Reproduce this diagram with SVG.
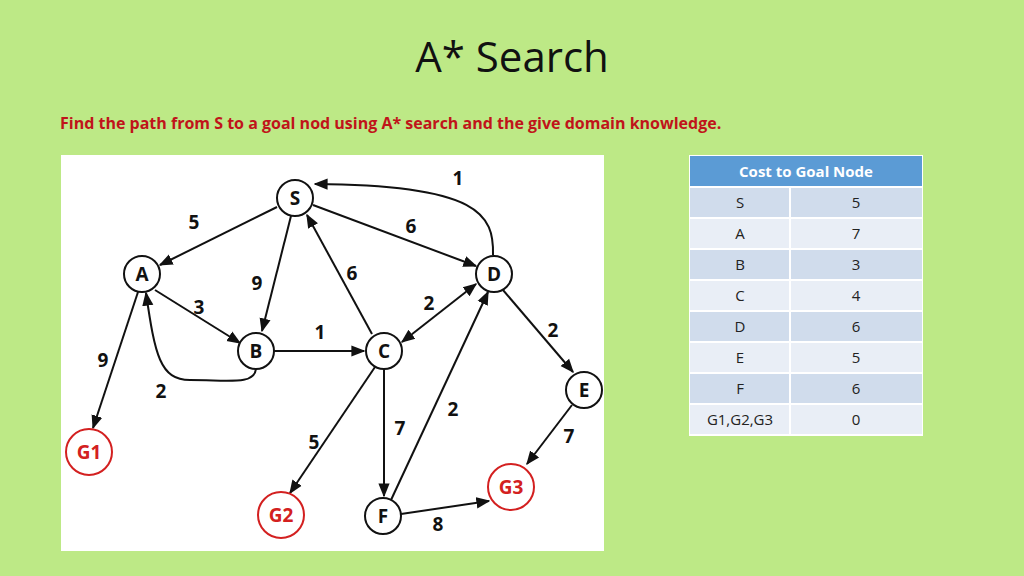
<svg xmlns="http://www.w3.org/2000/svg" width="1024" height="576" viewBox="0 0 1024 576">
<defs>
<marker id="ar" viewBox="0 0 10 10" refX="9" refY="5" markerWidth="7" markerHeight="7" orient="auto-start-reverse"><path d="M0,1 L10,5 L0,9 z" fill="#111"/></marker>
<style>
.n circle{fill:#fff;stroke:#111;stroke-width:2}
.g circle{fill:#fff;stroke:#d32020;stroke-width:2}
.n text{font:bold 19px "Open Sans","Liberation Sans",sans-serif;fill:#111;text-anchor:middle}
.g text{font:bold 19px "Open Sans","Liberation Sans",sans-serif;fill:#d32020;text-anchor:middle}
.e path{fill:none;stroke:#111;stroke-width:2;marker-end:url(#ar)}
.l{font:bold 19px "Open Sans","Liberation Sans",sans-serif;fill:#111;text-anchor:middle}
.t{font:15px "Open Sans","Liberation Sans",sans-serif;fill:#222;text-anchor:middle}
</style>
</defs>
<rect width="1024" height="576" fill="#bde986"/>
<text x="512" y="72" font-family="Open Sans,Liberation Sans,sans-serif" font-size="42" text-anchor="middle" fill="#111">A* Search</text>
<text x="60" y="129" font-family="Open Sans,Liberation Sans,sans-serif" font-size="16" font-weight="bold" fill="#c0141a">Find the path from S to a goal nod using A* search and the give domain knowledge.</text>
<rect x="61" y="155" width="543" height="396" fill="#fff"/>
<g class="e" id="connectors">
<path d="M277,207 L160,265"/>
<path d="M291,216 L262,331"/>
<path d="M313,205 L476,266"/>
<path d="M493,255 C494,215 480,185 315,184"/>
<path d="M372,334 L307,215"/>
<path d="M476,284 L402,342" style="marker-start:url(#ar)"/>
<path d="M155,290 L240,343"/>
<path d="M256,369 C254,385 230,380 190,380 C160,380 155,355 146,293"/>
<path d="M274,351 L364,351"/>
<path d="M138,292 L93,428"/>
<path d="M375,367 L290,493"/>
<path d="M384,370 L384,496"/>
<path d="M391,500 L488,292"/>
<path d="M503,290 L573,372"/>
<path d="M572,405 L527,464"/>
<path d="M401,514 L489,501"/>
</g>
<g id="labels">
<text class="l" x="194" y="229">5</text>
<text class="l" x="411" y="233">6</text>
<text class="l" x="458" y="185">1</text>
<text class="l" x="257" y="290">9</text>
<text class="l" x="352" y="280">6</text>
<text class="l" x="199" y="314">3</text>
<text class="l" x="429" y="310">2</text>
<text class="l" x="320" y="339">1</text>
<text class="l" x="553" y="337">2</text>
<text class="l" x="103" y="367">9</text>
<text class="l" x="161" y="398">2</text>
<text class="l" x="453" y="416">2</text>
<text class="l" x="400" y="435">7</text>
<text class="l" x="314" y="449">5</text>
<text class="l" x="569" y="443">7</text>
<text class="l" x="438" y="531">8</text>
</g>
<g id="S" class="n"><circle cx="295" cy="198" r="18"/><text x="295" y="205">S</text></g>
<g id="A" class="n"><circle cx="142" cy="274" r="18"/><text x="142" y="281">A</text></g>
<g id="B" class="n"><circle cx="256" cy="351" r="18"/><text x="256" y="358">B</text></g>
<g id="C" class="n"><circle cx="384" cy="351" r="18"/><text x="384" y="358">C</text></g>
<g id="D" class="n"><circle cx="494" cy="274" r="18"/><text x="494" y="281">D</text></g>
<g id="E" class="n"><circle cx="584" cy="390" r="18"/><text x="584" y="397">E</text></g>
<g id="F" class="n"><circle cx="383" cy="516" r="18"/><text x="383" y="523">F</text></g>
<g id="G1" class="g"><circle cx="89" cy="452" r="23"/><text x="89" y="459">G1</text></g>
<g id="G2" class="g"><circle cx="281" cy="515" r="23"/><text x="281" y="522">G2</text></g>
<g id="G3" class="g"><circle cx="511" cy="487" r="23"/><text x="511" y="494">G3</text></g>
<g id="table">
<rect x="689" y="155" width="234" height="281" fill="#fff"/>
<rect x="690" y="156" width="232" height="30" fill="#5b9bd5"/>
<text x="806" y="177" font-family="Open Sans,Liberation Sans,sans-serif" font-size="15" font-weight="bold" fill="#fff" text-anchor="middle">Cost to Goal Node</text>
<g fill="#d0dcec">
<rect x="690" y="188" width="99" height="29"/><rect x="791" y="188" width="131" height="29"/>
<rect x="690" y="250" width="99" height="29"/><rect x="791" y="250" width="131" height="29"/>
<rect x="690" y="312" width="99" height="29"/><rect x="791" y="312" width="131" height="29"/>
<rect x="690" y="374" width="99" height="29"/><rect x="791" y="374" width="131" height="29"/>
</g>
<g fill="#e9eef6">
<rect x="690" y="219" width="99" height="29"/><rect x="791" y="219" width="131" height="29"/>
<rect x="690" y="281" width="99" height="29"/><rect x="791" y="281" width="131" height="29"/>
<rect x="690" y="343" width="99" height="29"/><rect x="791" y="343" width="131" height="29"/>
<rect x="690" y="405" width="99" height="29"/><rect x="791" y="405" width="131" height="29"/>
</g>
<text class="t" x="740" y="208">S</text><text class="t" x="856" y="208">5</text>
<text class="t" x="740" y="239">A</text><text class="t" x="856" y="239">7</text>
<text class="t" x="740" y="270">B</text><text class="t" x="856" y="270">3</text>
<text class="t" x="740" y="301">C</text><text class="t" x="856" y="301">4</text>
<text class="t" x="740" y="332">D</text><text class="t" x="856" y="332">6</text>
<text class="t" x="740" y="363">E</text><text class="t" x="856" y="363">5</text>
<text class="t" x="740" y="394">F</text><text class="t" x="856" y="394">6</text>
<text class="t" x="740" y="425">G1,G2,G3</text><text class="t" x="856" y="425">0</text>
</g>
</svg>
